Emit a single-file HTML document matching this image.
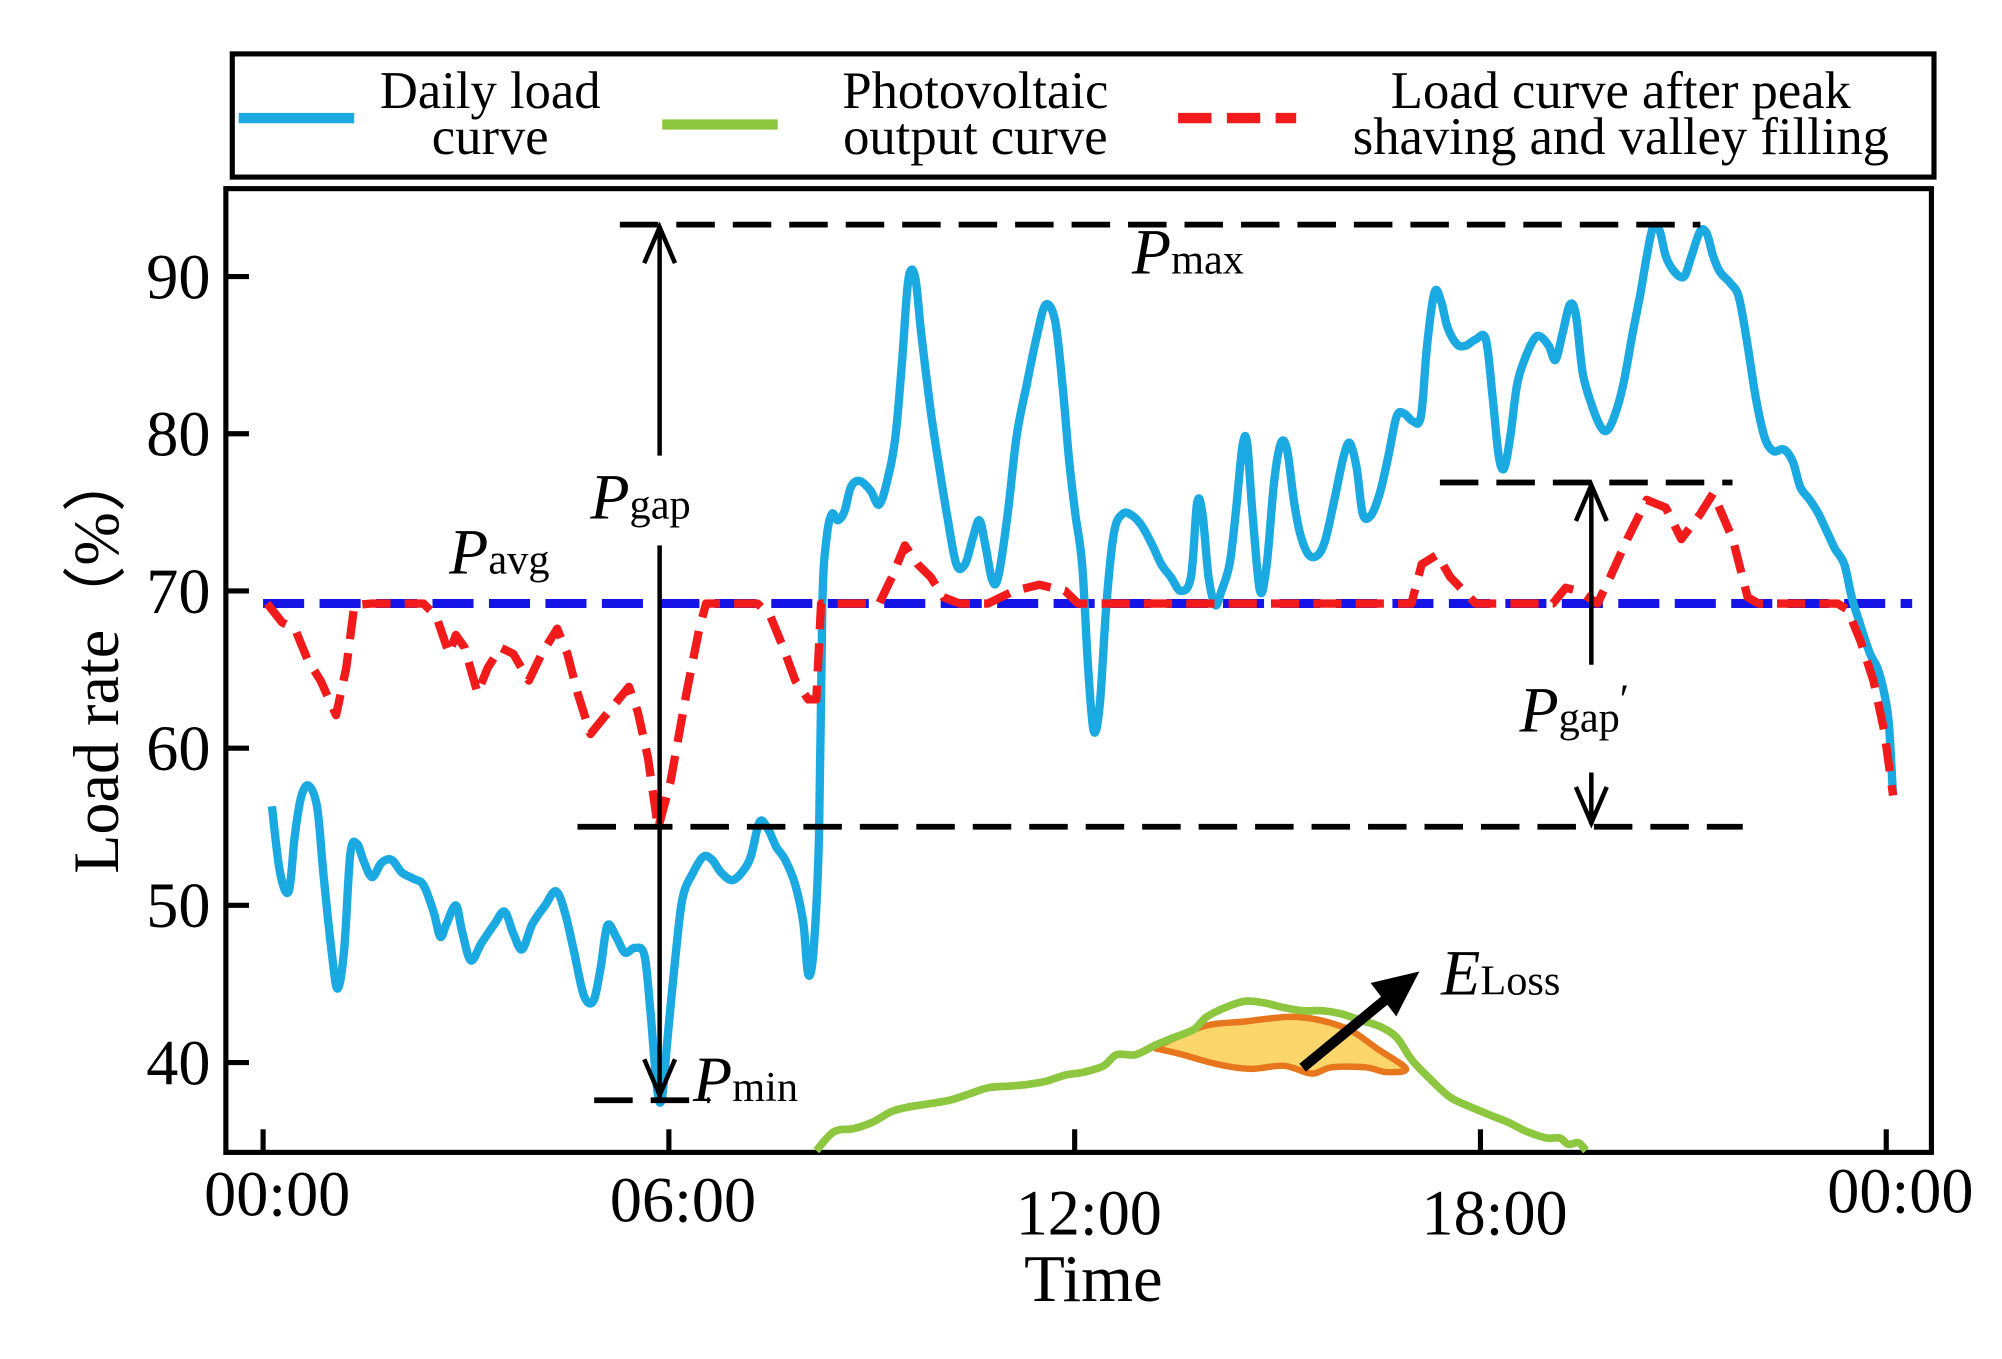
<!DOCTYPE html>
<html><head><meta charset="utf-8"><style>
html,body{margin:0;padding:0;background:#fff}
svg{display:block}
text{font-family:"Liberation Serif",serif;fill:#000}
</style></head><body>
<svg id="chart" xmlns="http://www.w3.org/2000/svg" width="2002" height="1359" viewBox="0 0 1560 1059" preserveAspectRatio="none">
<g>
<rect x="181" y="42" width="1326" height="96" fill="#fff" stroke="#000" stroke-width="4"/>
<line x1="186" y1="92" x2="276" y2="92" stroke="#1ba9e1" stroke-width="8"/>
<text font-size="41" text-anchor="middle"><tspan x="382" y="84">Daily load</tspan><tspan x="382" y="120">curve</tspan></text>
<line x1="516" y1="97" x2="606" y2="97" stroke="#8dc63f" stroke-width="8"/>
<text font-size="41" text-anchor="middle"><tspan x="760" y="84">Photovoltaic</tspan><tspan x="760" y="120">output curve</tspan></text>
<line x1="918" y1="92" x2="1010" y2="92" stroke="#f21b1b" stroke-width="8" stroke-dasharray="26,12"/>
<text font-size="41" text-anchor="middle"><tspan x="1263" y="84">Load curve after peak</tspan><tspan x="1263" y="120">shaving and valley filling</tspan></text>
</g>
<rect x="176" y="147" width="1329" height="751" fill="none" stroke="#000" stroke-width="4"/>
<g id="axes"></g>
<g id="marks"></g>
<g id="annot"></g>
<text font-size="50" text-anchor="middle" transform="translate(92,515) rotate(-90)">Load rate（%）</text>
<text font-size="52" x="852" y="1014" text-anchor="middle">Time</text>
</svg>
<script>
const NS="http://www.w3.org/2000/svg";
const yTicks=[40,50,60,70,80,90];
const xTickHours=[0,6,12,18,24];
const xTickLabels=["00:00","06:00","12:00","18:00","00:00"];
const avgValue=69.2, maxValue=93.3, minValue=37.6, shavedMax=76.9, shavedMin=55.0;
const loadHours=[.13,.25,.38,.47,.57,.68,.80,.89,1.01,1.10,1.20,1.29,1.39,1.48,1.61,1.75,1.90,2.05,2.22,2.37,2.52,2.62,2.71,2.85,2.94,3.07,3.23,3.42,3.57,3.70,3.83,3.98,4.17,4.33,4.46,4.59,4.74,4.88,4.99,5.09,5.22,5.35,5.50,5.64,5.73,5.83,5.90,5.98,6.09,6.20,6.36,6.51,6.64,6.77,6.93,7.08,7.21,7.34,7.46,7.59,7.72,7.87,7.99,8.06,8.14,8.22,8.27,8.33,8.41,8.50,8.60,8.69,8.82,8.98,9.11,9.24,9.35,9.45,9.54,9.64,9.73,9.87,10.00,10.11,10.25,10.38,10.49,10.59,10.68,10.78,10.87,11.01,11.14,11.29,11.44,11.57,11.71,11.82,11.92,12.01,12.11,12.20,12.28,12.37,12.47,12.58,12.71,12.85,13.00,13.15,13.28,13.42,13.57,13.72,13.81,13.89,13.98,14.08,14.17,14.29,14.38,14.48,14.55,14.63,14.74,14.84,14.95,15.05,15.14,15.24,15.33,15.46,15.60,15.71,15.84,15.98,16.07,16.17,16.26,16.38,16.51,16.64,16.76,16.87,17.00,17.12,17.21,17.32,17.42,17.51,17.65,17.78,17.93,18.08,18.18,18.27,18.35,18.44,18.54,18.65,18.79,18.88,19.01,19.11,19.22,19.32,19.41,19.51,19.64,19.77,19.87,19.98,20.11,20.25,20.36,20.46,20.55,20.65,20.74,20.87,21.01,21.12,21.25,21.35,21.44,21.54,21.69,21.82,21.95,22.07,22.20,22.33,22.49,22.62,22.73,22.87,23.00,23.13,23.24,23.38,23.49,23.62,23.76,23.87,23.97,24.04,24.10];
const loadValues=[56.3,52.1,50.9,54.5,57.0,57.6,56.2,52.1,47.2,44.7,47.2,53.3,53.9,52.9,51.8,52.7,52.9,52.1,51.7,51.3,49.6,48.0,48.8,50.0,48.4,46.5,47.6,48.8,49.6,48.2,47.2,48.8,50.0,50.9,49.6,47.2,44.3,43.9,46.0,48.7,48.0,47.0,47.3,46.8,43.1,38.2,37.8,41.5,46.4,50.4,52.1,53.1,52.9,52.1,51.6,52.1,53.1,55.3,54.9,53.7,52.9,51.3,48.8,45.6,47.2,54.5,69.2,73.3,74.9,74.5,75.1,76.6,77.0,76.4,75.5,77.2,79.8,84.7,89.8,90.0,86.4,81.5,77.8,74.9,71.7,71.7,73.3,74.5,72.9,70.7,70.9,74.9,79.8,83.1,86.2,88.2,87.2,83.1,78.2,74.9,71.7,65.1,61.1,62.7,69.2,73.7,74.9,74.8,74.1,72.9,71.7,70.9,70.0,70.9,75.6,74.9,70.9,69.1,70.0,71.7,74.9,79.2,79.4,74.9,70.0,71.7,77.0,79.4,79.0,75.8,73.7,72.3,72.3,73.3,75.8,78.6,79.4,77.8,74.9,74.8,76.2,78.6,81.1,81.3,80.8,81.1,85.6,89.0,88.4,86.8,85.7,85.6,86.0,86.0,82.3,78.6,77.8,79.8,83.1,84.7,86.0,86.2,85.6,84.7,86.5,88.2,87.6,83.9,81.9,80.5,80.2,81.1,83.1,86.4,88.8,91.3,93.1,92.9,91.3,90.3,90.0,91.3,92.9,92.7,91.3,90.3,89.6,88.7,85.6,82.3,79.8,78.9,79.0,78.2,76.6,75.8,74.9,73.7,72.7,71.7,69.6,67.8,66.0,65.1,63.5,61.5,57.0];
const shavedHours=[.06,.28,.47,.66,.85,1.08,1.23,1.35,1.61,2.37,2.56,2.75,2.85,2.98,3.17,3.32,3.51,3.70,3.93,4.12,4.35,4.50,4.65,4.84,5.03,5.18,5.41,5.54,5.69,5.84,6.02,6.26,6.45,6.55,7.31,7.50,7.69,7.87,8.06,8.18,8.25,9.11,9.30,9.49,9.68,9.87,10.06,10.30,10.72,11.10,11.48,11.86,12.05,16.98,17.13,17.36,17.55,17.93,19.07,19.26,19.45,19.73,19.92,20.17,20.46,20.74,20.97,21.25,21.44,21.73,21.95,22.11,23.28,23.43,23.62,23.81,23.97,24.10];
const shavedValues=[69.2,68.0,67.6,65.6,64.3,62.1,65.1,69.1,69.2,69.2,68.4,66.0,67.2,66.4,63.5,65.1,66.4,66.0,64.3,66.0,67.6,66.0,63.5,60.9,61.9,62.7,63.9,62.3,59.4,54.9,57.8,63.5,67.6,69.2,69.2,68.4,66.4,64.3,63.1,63.1,69.2,69.2,70.9,72.9,71.7,70.9,69.6,69.2,69.2,70.0,70.4,70.0,69.2,69.2,71.7,72.3,70.9,69.2,69.2,70.2,70.0,69.2,70.9,73.3,75.8,75.3,73.3,74.9,76.2,73.3,69.6,69.2,69.2,68.8,66.8,64.3,61.1,57.0];
const pvHours=[8.18,8.44,8.73,9.01,9.30,9.58,9.87,10.15,10.44,10.72,11.01,11.29,11.57,11.86,12.14,12.43,12.62,12.90,13.19,13.47,13.76,13.95,14.23,14.52,14.80,15.09,15.37,15.66,15.94,16.22,16.51,16.76,16.98,17.27,17.55,17.84,18.12,18.41,18.69,18.98,19.17,19.30,19.45,19.56];
const pvValues=[34.4,35.6,35.8,36.2,36.9,37.2,37.4,37.6,38.0,38.4,38.5,38.6,38.8,39.2,39.4,39.8,40.5,40.5,41.1,41.6,42.1,42.9,43.5,43.9,43.8,43.5,43.3,43.3,43.1,42.7,42.3,41.6,40.2,38.9,37.8,37.2,36.7,36.2,35.6,35.2,35.2,34.8,34.9,34.4];
const lossHours=[13.2,13.9,14.5,15.3,16.0,16.5,16.9,16.6,16.3,15.8,15.5,15.1,14.6,14.1,13.6,13.2];
const lossValues=[41.0,42.3,42.6,42.9,42.2,40.8,39.6,39.4,39.7,39.7,39.3,39.8,39.6,39.9,40.5,40.9];

const X=h=>205+h*52.7;
const Y=v=>828-(v-40)*12.25;
function mk(tag,attrs,parent){const e=document.createElementNS(NS,tag);for(const k in attrs)e.setAttribute(k,attrs[k]);parent.appendChild(e);return e;}
const axes=document.getElementById('axes'),marks=document.getElementById('marks'),annot=document.getElementById('annot');
const xLabelY=[930,935,945,945,928];
yTicks.forEach(v=>{
  const t=mk('line',{x1:176,y1:Y(v),x2:194,y2:Y(v),stroke:'#000','stroke-width':4},axes);
  
  
  const l=mk('text',{x:164,y:Y(v)+17,'font-size':50,'text-anchor':'end'},axes);l.textContent=v;
  
  
});
xTickHours.forEach((h,i)=>{
  const t=mk('line',{x1:X(h),y1:898,x2:X(h),y2:880,stroke:'#000','stroke-width':4},axes);
  
  
  const l=mk('text',{x:X(h)+11,y:xLabelY[i]+17,'font-size':50,'text-anchor':'middle'},axes);l.textContent=xTickLabels[i];
  
  
});
function pts(hs,vs){return hs.map((h,i)=>X(h).toFixed(1)+','+Y(vs[i]).toFixed(1)).join(' ');}
function smooth(hs,vs){const p=hs.map((h,i)=>[X(h),Y(vs[i])]);let d='M'+p[0][0].toFixed(1)+','+p[0][1].toFixed(1);
  for(let i=0;i<p.length-1;i++){const p0=p[Math.max(0,i-1)],p1=p[i],p2=p[i+1],p3=p[Math.min(p.length-1,i+2)];
    const c1=[p1[0]+(p2[0]-p0[0])/6,p1[1]+(p2[1]-p0[1])/6],c2=[p2[0]-(p3[0]-p1[0])/6,p2[1]-(p3[1]-p1[1])/6];
    d+=`C${c1[0].toFixed(1)},${c1[1].toFixed(1)} ${c2[0].toFixed(1)},${c2[1].toFixed(1)} ${p2[0].toFixed(1)},${p2[1].toFixed(1)}`;}
  return d;}
const avg=mk('line',{x1:X(0),y1:Y(avgValue),x2:1490,y2:Y(avgValue),stroke:'#1414e6','stroke-width':7,'stroke-dasharray':'32,12'},marks);


const loss=mk('path',{d:smooth(lossHours,lossValues)+'Z',fill:'#fdd66b',stroke:'#e8761c','stroke-width':5,'stroke-linejoin':'round'},marks);


const pv=mk('path',{d:smooth(pvHours,pvValues),fill:'none',stroke:'#8dc63f','stroke-width':6,'stroke-linejoin':'round'},marks);


const load=mk('path',{d:smooth(loadHours,loadValues),fill:'none',stroke:'#1ba9e1','stroke-width':6.5,'stroke-linejoin':'round'},marks);


const sh=mk('polyline',{points:pts(shavedHours,shavedValues),fill:'none',stroke:'#f21b1b','stroke-width':6.5,'stroke-dasharray':'22,11','stroke-linejoin':'round'},marks);


function dline(x1,y1,x2,y2,name){const e=mk('line',{x1,y1,x2,y2,stroke:'#000','stroke-width':4.5,'stroke-dasharray':'30,14'},annot);
  
  }
dline(483,Y(maxValue),1325,Y(maxValue),'pmax-line');
dline(463,Y(minValue),553,Y(minValue),'pmin-line');
dline(1122,Y(shavedMax),1350,Y(shavedMax),'shaved-max-line');
dline(450,Y(shavedMin),1358,Y(shavedMin),'shaved-min-line');
function seg(x1,y1,x2,y2,name,w){const e=mk('line',{x1,y1,x2,y2,stroke:'#000','stroke-width':w||3.5},annot);
  
  }
function head(x,y,dir,name){const d=dir*28;const e=mk('polyline',{points:`${x-12},${y+d} ${x},${y} ${x+12},${y+d}`,fill:'none',stroke:'#000','stroke-width':3.5},annot);
  
  }
seg(514,Y(maxValue)+2,514,355,'pgap-arrow-upper');seg(514,425,514,Y(minValue)-2,'pgap-arrow-lower');
head(514,Y(maxValue)+2,1,'pgap-arrowhead-top');head(514,Y(minValue)-4,-1,'pgap-arrowhead-bottom');
seg(1240,Y(shavedMax)+2,1240,518,'pgap2-arrow-upper');seg(1240,602,1240,Y(shavedMin)-2,'pgap2-arrow-lower');
head(1240,Y(shavedMax)+2,1,'pgap2-arrowhead-top');head(1240,Y(shavedMin)-3,-1,'pgap2-arrowhead-bottom');
seg(1015,832,1082,777,'eloss-arrow-shaft',8);
const ah=mk('polygon',{points:'1106,757 1068,766 1088,792',fill:'#000'},annot);


function lbl(x,y,main,sub,name,extra){const t=mk('text',{x,y,'font-size':50},annot);
  
  
  const a=mk('tspan',{'font-style':'italic'},t);a.textContent=main;
  const b=mk('tspan',{'font-size':33},t);b.textContent=sub;
  if(extra){const c=mk('tspan',{'font-size':33,dy:-14},t);c.textContent=extra;}}
lbl(460,404,'P','gap','pgap-label');
lbl(350,447,'P','avg','pavg-label');
lbl(882,213,'P','max','pmax-label');
lbl(540,858,'P','min','pmin-label');
lbl(1184,570,'P','gap','pgap-prime-label','′');
lbl(1123,775,'E','Loss','eloss-label');
</script>
</body></html>
